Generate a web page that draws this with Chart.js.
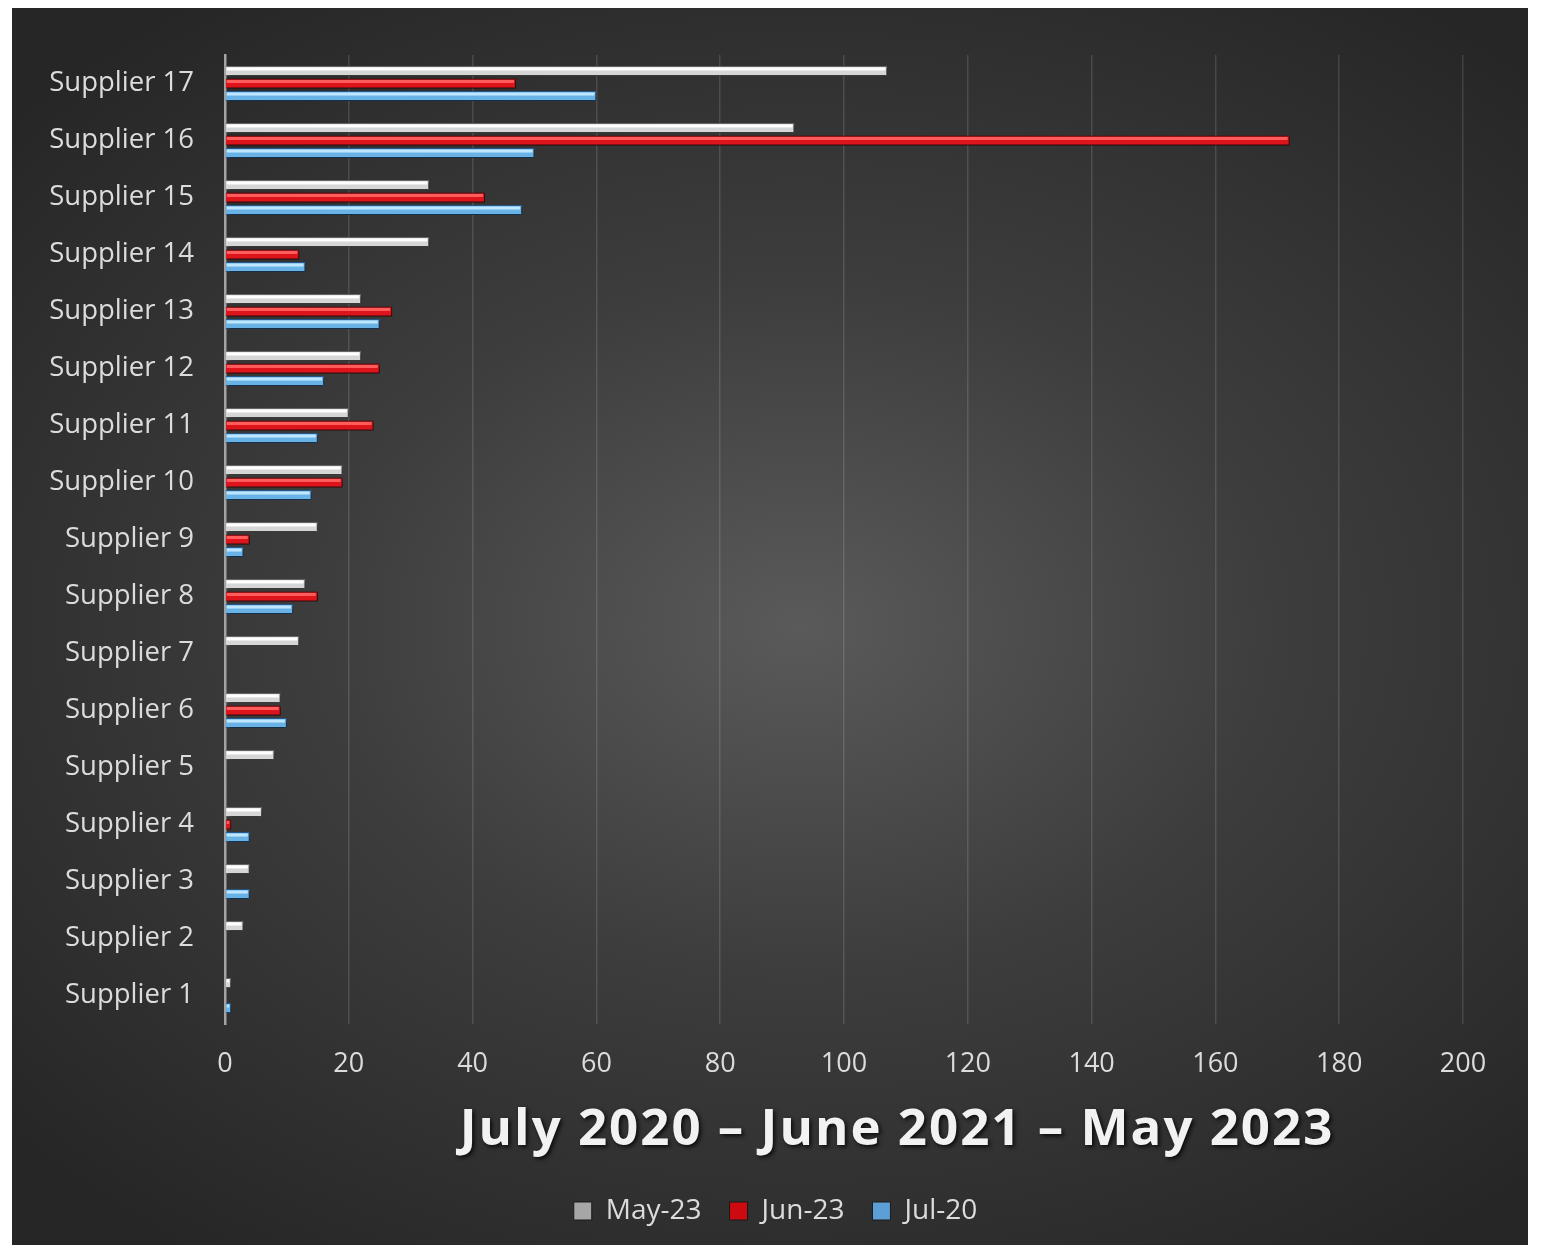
<!DOCTYPE html>
<html>
<head>
<meta charset="utf-8">
<script src="https://cdn.jsdelivr.net/npm/chart.js@4.4.1/dist/chart.umd.min.js"></script>
<style>
    html, body { margin: 0; padding: 0; background: #ffffff; }
    #wrap {
        position: absolute;
        left: 12px;
        top: 8px;
        width: 1516px;
        height: 1237px;
        background: radial-gradient(ellipse 70% 62% at 52% 50%, #5a5a5a 0%, #3d3d3d 45%, #262626 100%);
    }
</style>
</head>
<body>
<div id="wrap"><canvas id="supplierChart" width="1516" height="1237"></canvas></div>
<script>
// top to bottom, as drawn
const suppliers = ['Supplier 17', 'Supplier 16', 'Supplier 15', 'Supplier 14', 'Supplier 13', 'Supplier 12',
    'Supplier 11', 'Supplier 10', 'Supplier 9', 'Supplier 8', 'Supplier 7', 'Supplier 6', 'Supplier 5',
    'Supplier 4', 'Supplier 3', 'Supplier 2', 'Supplier 1'];
const may23 = [107, 92, 33, 33, 22, 22, 20, 19, 15, 13, 12, 9, 8, 6, 4, 3, 1];
const jun23 = [47, 172, 42, 12, 27, 25, 24, 19, 4, 15, null, 9, null, 1, null, null, null];
const jul20 = [60, 50, 48, 13, 25, 16, 15, 14, 3, 11, null, 10, null, 4, 4, null, 1];
const xTicks = [0, 20, 40, 60, 80, 100, 120, 140, 160, 180, 200];
const chartTitle = 'July 2020 \u2013 June 2021 \u2013 May 2023';

const fontFamily = '"Open Sans", "Noto Sans", sans-serif';
const labelColor = '#dcdcdc';

// shadow under the bars plus a light stripe on each one, for the bevel look
const barBevel = {
    id: 'barBevel',
    beforeDatasetsDraw(chart) {
        const ctx = chart.ctx;
        ctx.save();
        ctx.shadowColor = 'rgba(0, 0, 0, 0.65)';
        ctx.shadowBlur = 4;
        ctx.shadowOffsetX = 2;
        ctx.shadowOffsetY = 2;
    },
    afterDatasetsDraw(chart) {
        const ctx = chart.ctx;
        ctx.restore();
        ctx.save();
        chart.data.datasets.forEach((ds, i) => {
            chart.getDatasetMeta(i).data.forEach(bar => {
                if (bar.skip || bar.x == null) return;
                const h = bar.height;
                const left = Math.min(bar.x, bar.base);
                const w = Math.abs(bar.x - bar.base);
                if (w < 2) return;
                ctx.fillStyle = ds.highlight;
                ctx.fillRect(left + 1, bar.y - h / 2 + 1.5, w - 3, h * 0.3);
            });
        });
        ctx.restore();
    }
};

// big title under the x axis, legend nudged to where the original has it
const bottomTitle = {
    id: 'bottomTitle',
    afterLayout(chart) {
        chart.legend.left += 38;
        chart.legend.right += 38;
    },
    afterDraw(chart) {
        const ctx = chart.ctx;
        const xScale = chart.scales.x;
        ctx.save();
        ctx.font = 'bold 51px ' + fontFamily;
        ctx.letterSpacing = '2px';
        ctx.textAlign = 'center';
        ctx.textBaseline = 'middle';
        ctx.shadowColor = 'rgba(0, 0, 0, 0.8)';
        ctx.shadowBlur = 4;
        ctx.shadowOffsetX = 2;
        ctx.shadowOffsetY = 2;
        ctx.fillStyle = '#f2f2f2';
        ctx.fillText(chartTitle, xScale.left + xScale.width / 2 + 53, xScale.top + 106);
        ctx.restore();
    }
};

const ctx = document.getElementById('supplierChart').getContext('2d');
const supplierChart = new Chart(ctx, {
    type: 'bar',
    data: {
        labels: suppliers,
        datasets: [
            {
                label: 'May-23',
                data: may23,
                backgroundColor: '#d6d6d6',
                borderColor: '#6f6f6f',
                highlight: '#ffffff',
                legendColor: '#a6a6a6',
                borderWidth: 1
            },
            {
                label: 'Jun-23',
                data: jun23,
                backgroundColor: '#de141c',
                borderColor: '#6e0000',
                highlight: '#ff5c5c',
                legendColor: '#cc0a10',
                borderWidth: 1
            },
            {
                label: 'Jul-20',
                data: jul20,
                backgroundColor: '#69b2e6',
                borderColor: '#2a5f96',
                highlight: '#bfe6ff',
                legendColor: '#5c9fd6',
                borderWidth: 1
            }
        ]
    },
    options: {
        indexAxis: 'y',
        responsive: false,
        devicePixelRatio: 1,
        animation: false,
        categoryPercentage: 0.66,
        barPercentage: 0.8,
        layout: {
            padding: { top: 47, right: 65, bottom: 10, left: 0 }
        },
        scales: {
            x: {
                min: 0,
                max: 200,
                afterBuildTicks: scale => {
                    scale.ticks = xTicks.map(v => ({ value: v }));
                },
                afterFit: scale => {
                    scale.height = 145;
                },
                ticks: {
                    color: labelColor,
                    font: { family: fontFamily, size: 27 },
                    padding: 24
                },
                grid: {
                    color: 'rgba(255, 255, 255, 0.13)',
                    lineWidth: 1.5,
                    drawTicks: false
                },
                border: { display: false }
            },
            y: {
                afterFit: scale => {
                    scale.width = 213;
                },
                ticks: {
                    color: labelColor,
                    font: { family: fontFamily, size: 27.5 },
                    padding: 23
                },
                grid: { display: false },
                border: { color: '#a3a3a3', width: 2.5 }
            }
        },
        plugins: {
            legend: {
                position: 'bottom',
                labels: {
                    color: labelColor,
                    font: { family: fontFamily, size: 28 },
                    boxWidth: 18,
                    boxHeight: 18,
                    padding: 28,
                    generateLabels: chart => chart.data.datasets.map((ds, i) => ({
                        text: ds.label,
                        fillStyle: ds.legendColor,
                        strokeStyle: '#1a1a1a',
                        lineWidth: 1,
                        fontColor: labelColor,
                        hidden: !chart.isDatasetVisible(i),
                        datasetIndex: i
                    }))
                }
            },
            title: { display: false },
            tooltip: { enabled: false }
        }
    },
    plugins: [barBevel, bottomTitle]
});
</script>
</body>
</html>
